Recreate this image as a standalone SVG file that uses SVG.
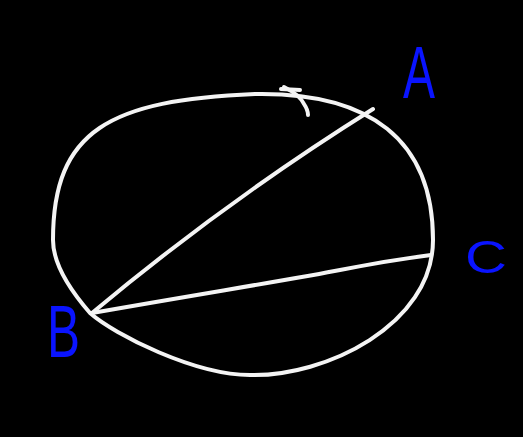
<svg xmlns="http://www.w3.org/2000/svg" width="523" height="437" viewBox="0 0 523 437">
<style>
.ink{fill:none;stroke:#f4f4f4;stroke-width:4;stroke-linecap:round;stroke-linejoin:round}
.lbl{fill:#0a14ff;font-family:"Liberation Sans","DejaVu Sans",sans-serif}
</style>
<rect x="0" y="0" width="523" height="437" fill="#000"/>
<g id="circle">
<path class="ink" d="M255,94 C370,92 433,140 433,240 C433,325 325,377 250,375 C195,375 115,335 90,313 C70,290 53,265 53,240 C53,130 110,100 255,94 Z"/>
<path class="ink" d="M284,87 Q300,95 304,104 Q308,110 308,115"/>
<path class="ink" d="M281,89 L300,90"/>
</g>
<g id="connectors">
<path class="ink" d="M92,313 Q226,201 373,109"/>
<path class="ink" d="M92,313 C200,294 300,278 340,270 S400,259 431,255"/>
</g>
<g id="label-A"><text class="lbl" x="403" y="98" font-size="74" textLength="32" lengthAdjust="spacingAndGlyphs">A</text></g>
<g id="label-B"><text class="lbl" x="47" y="357" font-size="74" textLength="33" lengthAdjust="spacingAndGlyphs">B</text></g>
<g id="label-C"><text class="lbl" x="465" y="273" font-size="46" textLength="42" lengthAdjust="spacingAndGlyphs">C</text></g>
</svg>
